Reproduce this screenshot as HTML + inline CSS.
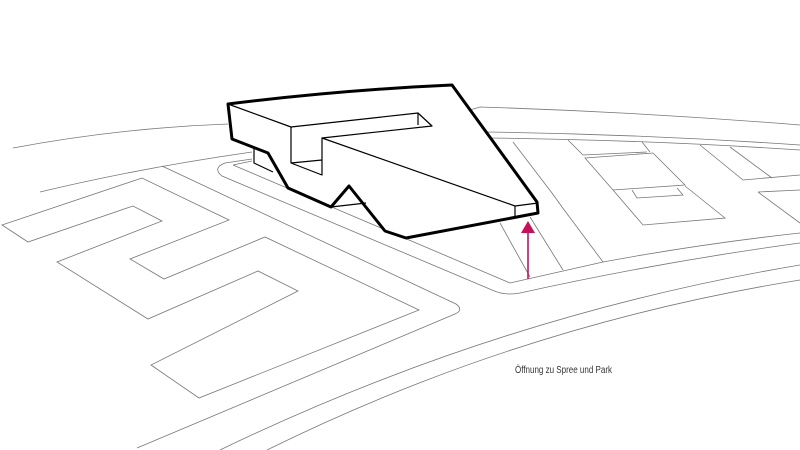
<!DOCTYPE html>
<html><head><meta charset="utf-8"><style>html,body{margin:0;padding:0;background:#fff;width:800px;height:450px;overflow:hidden}</style></head><body>
<svg width="800" height="450" viewBox="0 0 800 450" xmlns="http://www.w3.org/2000/svg">
<g fill="none" stroke="#777" stroke-width="0.8">
<path d="M13,148 Q120,128 228,124"/>
<path d="M40,192 Q140,168 252,152"/>
<path d="M162,166 L456,304 Q464,310 455,314 L137,448"/>
<path d="M252,159 L225,163 Q212,168 222,176 L492,290 Q505,296 520,293 Q660,262 800,243"/>
<path d="M233,165 L252,161 M233,165 L510,283 L603,262 Q700,244 800,233"/>
<path d="M220,450 Q500,315 800,265"/>
<path d="M267,450 Q520,325 800,280"/>
<path d="M2,225 L142,178 L229,220 L130,259 L164,279 L265,237 L419,310 L199,398 L151,365 L298,291 L258,271 L148,319 L57,262 L162,221 L133,206 L28,242 Z"/>
<path d="M470,110 L480,107 Q640,112 800,125"/>
<path d="M483,132 Q640,134 800,145"/>
<path d="M490,138 Q650,140 800,150"/>
<path d="M513,142 L552,193 L562,207 L603,262"/>
<path d="M500,223 L530,277"/>
<path d="M530,217 L563,270"/>
<path d="M568,140 L583,155 L647,152 M642,142 L650,152"/>
<path d="M585,158 L653,153 L685,185 L613,190 Z"/>
<path d="M632,190 L637,198 L683,195 L677,188"/>
<path d="M613,190 L643,225 L725,218 L685,186"/>
<path d="M700,145 L743,180 L800,175"/>
<path d="M730,147 L772,178"/>
<path d="M758,192 L800,190 M758,192 L800,223"/>
</g>
<g stroke="#000" stroke-linejoin="round" fill="#fff">
<path d="M228,104 Q340,90 452,85 L537,202 L538,213 L406,238 L385,231 L349,186 L331,207 L288,188 L268,153 L232,139 Z" stroke-width="3"/>
<g stroke-width="1.2" fill="none">
<path d="M228,104 L291,127 L418,113 L432,126 L322,138 L515,206 L538,203"/>
<path d="M291,127 L291,163 L322,175 L322,138 M291,163 L322,160"/>
<path d="M418,113 L418,125 M515,206 L515,216"/>
<path d="M254,148 L254,163 L273,172 M331,207 L366,203"/>
</g>
</g>
<line x1="528" y1="279" x2="528" y2="230" stroke="#c8105a" stroke-width="1.6"/>
<path d="M521,233 L528,221 L535,233 Z" fill="#c8105a"/>
<text x="515" y="373" font-family="Liberation Sans, sans-serif" font-size="10" fill="#333" textLength="97" lengthAdjust="spacingAndGlyphs">Öffnung zu Spree und Park</text>
</svg>
</body></html>
